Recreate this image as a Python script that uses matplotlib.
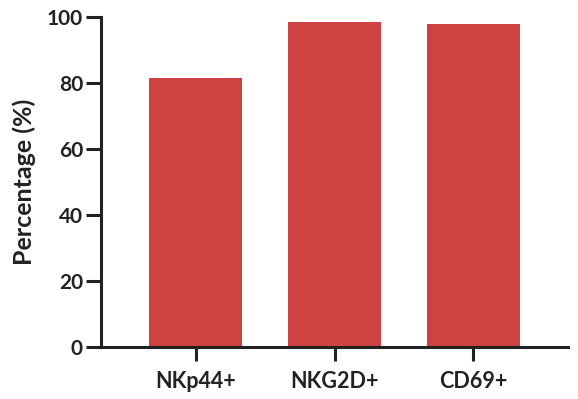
import matplotlib
matplotlib.use('Agg')
import matplotlib.pyplot as plt

# données
categories = ['NKp44+', 'NKG2D+', 'CD69+']
pourcentages = [81.6, 98.5, 97.9]
yticks = [0, 20, 40, 60, 80, 100]

plt.rcParams['font.family'] = ['Lato', 'DejaVu Sans']
plt.rcParams['font.weight'] = 'bold'

fig = plt.figure(figsize=(5.78, 3.99), dpi=100)
ax = fig.add_axes([101/578, 52/399, 467/578, 330/399])

x = range(len(categories))
ax.bar(x, pourcentages, width=0.67, color='#d04242', zorder=2)

ax.set_xlim(-0.68, 2.68)
ax.set_ylim(0, 100)
ax.set_yticks(yticks)
ax.set_xticks(list(x))
ax.set_xticklabels(categories)

for s in ['top', 'right']:
    ax.spines[s].set_visible(False)
for s in ['left', 'bottom']:
    ax.spines[s].set_linewidth(2.2)
    ax.spines[s].set_color('#222222')

ax.tick_params(axis='y', length=11, width=2.2, color='#222222',
               labelsize=15, labelcolor='#222222', pad=2)
ax.tick_params(axis='x', length=10, width=2.2, color='#222222',
               labelsize=15.5, labelcolor='#222222', pad=7)
ax.set_ylabel('Percentage (%)', fontsize=18, fontweight='bold',
              color='#222222', labelpad=8)

plt.savefig('out.png', dpi=100)
plt.close()
